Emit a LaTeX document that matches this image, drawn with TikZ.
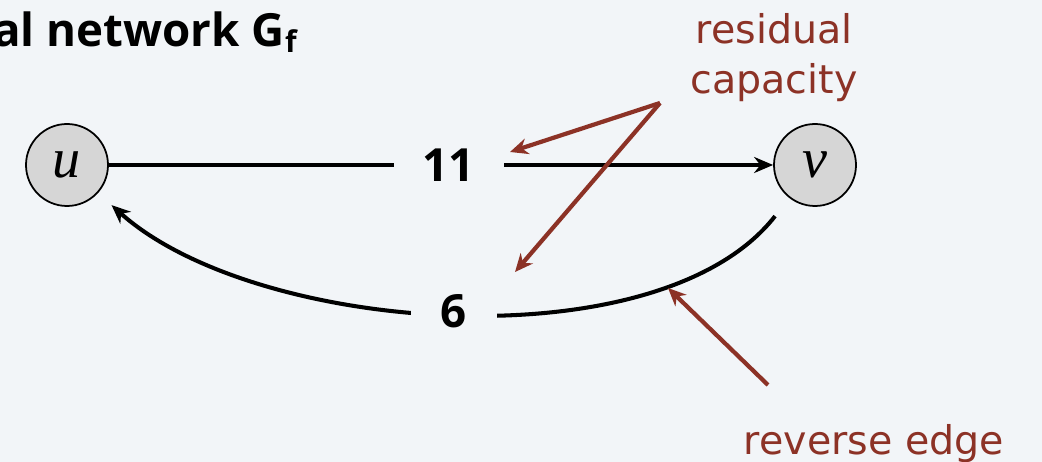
\documentclass[tikz,border=0pt]{standalone}
\usepackage{fontspec}
\usetikzlibrary{arrows.meta}
\newfontfamily\notefont{DejaVu Sans}
\newfontfamily\headfont{Open Sans}
\newfontfamily\vertfont{Liberation Serif}
\definecolor{bgcol}{RGB}{242,245,248}
\definecolor{notered}{RGB}{140,50,38}
\definecolor{vertgray}{RGB}{214,214,214}
\tikzset{
  vertex/.style={circle, draw, line width=1pt, fill=vertgray, minimum size=1.64cm, inner sep=0pt, font=\vertfont\itshape\fontsize{32}{36}\selectfont},
  edge/.style={line width=2.3pt, -{Stealth[length=0.38cm,width=0.32cm]}},
  weight/.style={fill=bgcol, inner ysep=2pt, font=\headfont\bfseries\fontsize{26}{30}\selectfont},
  note/.style={text=notered, font=\notefont\fontsize{22.5}{28.5}\selectfont, align=center, inner sep=0pt},
  pointer/.style={notered, line width=2.4pt, -{Stealth[length=0.36cm,width=0.32cm]}}
}
\begin{document}
\begin{tikzpicture}
\useasboundingbox[fill=bgcol] (0,0) rectangle (20.84,9.24);
\node[anchor=base west, inner sep=0pt, font=\headfont\bfseries\fontsize{26}{30}\selectfont] (title) at (-0.14,8.3) {al network G\raisebox{-0.12em}{\fontsize{17}{19}\selectfont f}};

\node[vertex] (u) at (1.34,5.94) {u};
\node[vertex] (v) at (16.3,5.94) {v};

\draw[edge] (u) -- node[weight, pos=0.512, inner xsep=0.58cm] (w11) {11} (v);
\draw[edge, shorten <=0.46cm, shorten >=0.36cm] (v) to[out=232, in=-42, looseness=0.78] node[weight, pos=0.5, inner xsep=0.6cm] (w6) {6} (u);

\node[note, anchor=north] (rescap) at (15.48,8.98) {residual\\capacity};
\coordinate (rcfoot) at (13.2,7.18);
\coordinate (tip11) at (10.2,6.2);
\coordinate (tip6) at (10.3,3.8);
\draw[pointer] (rcfoot) -- (tip11);
\draw[pointer] (rcfoot) -- (tip6);

\node[note, anchor=base] (revedge) at (17.48,0.14) {reverse edge};
\coordinate (refoot) at (15.36,1.54);
\coordinate (tiprev) at (13.36,3.48);
\draw[pointer] (refoot) -- (tiprev);
\end{tikzpicture}
\end{document}
